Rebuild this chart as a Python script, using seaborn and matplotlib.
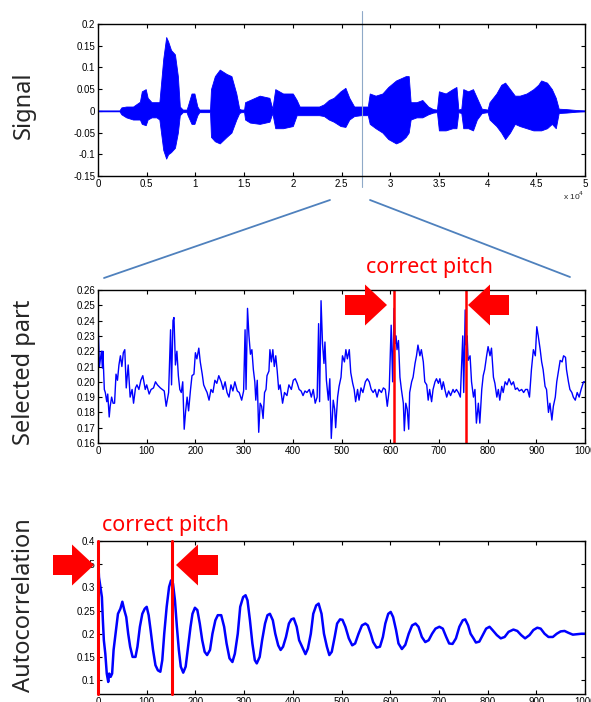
import matplotlib
matplotlib.use("Agg")
import matplotlib.pyplot as plt
from matplotlib.lines import Line2D
from matplotlib.patches import FancyArrow
import numpy as np
import pandas as pd
import seaborn as sns

# --- top panel: envelope of the speech signal (x in units of 1e4 samples)
sig_t = [0.0, 0.22, 0.24, 0.29, 0.36, 0.43, 0.45, 0.49, 0.51, 0.55, 0.60, 0.63, 0.67, 0.70,
         0.72, 0.75, 0.79, 0.82, 0.84, 0.87, 0.91, 0.92, 0.96, 0.99, 1.02, 1.04, 1.15, 1.16,
         1.20, 1.25, 1.32, 1.37, 1.42, 1.45, 1.47, 1.50, 1.51, 1.56, 1.66, 1.76, 1.79, 1.82,
         1.90, 2.00, 2.04, 2.07, 2.14, 2.21, 2.27, 2.32, 2.37, 2.42, 2.49, 2.54, 2.58, 2.63,
         2.70, 2.77, 2.79, 2.85, 2.92, 2.98, 3.06, 3.11, 3.16, 3.19, 3.21, 3.27, 3.33, 3.39,
         3.44, 3.48, 3.50, 3.57, 3.64, 3.68, 3.70, 3.73, 3.75, 3.80, 3.85, 3.89, 3.94, 4.00,
         4.02, 4.09, 4.14, 4.18, 4.23, 4.28, 4.33, 4.40, 4.47, 4.52, 4.55, 4.61, 4.66, 4.70,
         4.73, 4.81, 4.91, 5.00]
sig_hi = [0.001, 0.001, 0.008, 0.01, 0.01, 0.021, 0.045, 0.05, 0.03, 0.02, 0.02, 0.02, 0.12, 0.17,
          0.16, 0.14, 0.13, 0.08, 0.01, 0.003, 0.003, 0.01, 0.04, 0.04, 0.01, 0.003, 0.003, 0.05,
          0.08, 0.095, 0.085, 0.08, 0.04, 0.005, 0.003, 0.003, 0.02, 0.025, 0.035, 0.03, 0.005, 0.05,
          0.04, 0.04, 0.025, 0.01, 0.01, 0.01, 0.01, 0.015, 0.025, 0.03, 0.045, 0.053, 0.03, 0.01,
          0.01, 0.01, 0.04, 0.035, 0.04, 0.055, 0.07, 0.075, 0.08, 0.08, 0.02, 0.02, 0.025, 0.01,
          0.004, 0.003, 0.045, 0.04, 0.05, 0.055, 0.003, 0.005, 0.05, 0.045, 0.05, 0.03, 0.005, 0.003,
          0.02, 0.04, 0.06, 0.065, 0.05, 0.035, 0.035, 0.04, 0.05, 0.06, 0.07, 0.065, 0.05, 0.03,
          0.005, 0.004, 0.002, 0.001]
sig_lo = [-0.001, -0.001, -0.008, -0.015, -0.02, -0.02, -0.03, -0.033, -0.02, -0.015, -0.015, -0.02, -0.09, -0.11,
          -0.1, -0.095, -0.085, -0.05, -0.01, -0.003, -0.003, -0.01, -0.03, -0.03, -0.01, -0.003, -0.003, -0.06,
          -0.07, -0.075, -0.06, -0.05, -0.02, -0.005, -0.003, -0.003, -0.02, -0.027, -0.03, -0.025, -0.005, -0.04,
          -0.04, -0.035, -0.01, -0.01, -0.01, -0.01, -0.01, -0.012, -0.02, -0.025, -0.035, -0.037, -0.02, -0.012,
          -0.01, -0.01, -0.03, -0.04, -0.05, -0.065, -0.075, -0.07, -0.06, -0.05, -0.02, -0.015, -0.015, -0.008,
          -0.004, -0.003, -0.045, -0.045, -0.04, -0.04, -0.003, -0.005, -0.04, -0.04, -0.045, -0.02, -0.005, -0.003,
          -0.02, -0.035, -0.05, -0.065, -0.05, -0.03, -0.035, -0.04, -0.045, -0.045, -0.045, -0.04, -0.03, -0.04,
          -0.005, -0.004, -0.002, -0.001]
sel_mark = 2.71

# --- middle panel: selected 1000 samples
part_n = [0, 3, 7, 9, 10, 13, 15, 18, 20, 23, 25, 28, 31, 34, 37, 40, 43, 46, 49, 52, 55, 58, 62, 66,
          70, 73, 77, 80, 84, 88, 92, 97, 100, 105, 109, 114, 118, 122, 128, 132, 136, 140, 145,
          149, 151, 154, 156, 159, 162, 165, 168, 171, 174, 177, 180, 183, 186, 190, 193, 197,
          200, 203, 207, 210, 214, 217, 221, 224, 228, 232, 236, 240, 244, 248, 253, 257, 261,
          265, 269, 273, 277, 281, 286, 290, 295, 299, 302, 304, 307, 310, 313, 316, 319, 322,
          324, 327, 330, 333, 336, 339, 342, 345, 347, 351, 353, 356, 359, 362, 365, 368, 371,
          374, 379, 383, 388, 392, 397, 401, 405, 409, 413, 417, 421, 425, 429, 434, 438, 442,
          446, 450, 453, 455, 458, 461, 464, 466, 469, 473, 476, 479, 483, 486, 488, 492, 495,
          499, 502, 506, 509, 512, 516, 519, 523, 526, 529, 533, 536, 540, 544, 549, 553, 557,
          561, 565, 569, 573, 577, 582, 586, 590, 594, 598, 602, 605, 608, 610, 612, 614, 617,
          620, 623, 627, 629, 632, 635, 638, 640, 644, 647, 651, 654, 657, 661, 664, 668, 671,
          675, 678, 681, 685, 688, 692, 695, 699, 702, 706, 709, 713, 716, 720, 724, 729, 732,
          736, 740, 744, 749, 751, 754, 756, 758, 760, 764, 767, 771, 774, 777, 781, 784, 788,
          791, 794, 798, 801, 805, 808, 812, 815, 819, 822, 825, 829, 832, 836, 840, 844, 849,
          853, 857, 861, 865, 870, 874, 878, 882, 886, 890, 894, 898, 901, 904, 908, 911, 914,
          918, 921, 925, 928, 932, 935, 939, 942, 946, 949, 953, 956, 960, 962, 966, 969, 973,
          976, 980, 984, 988, 992, 997, 1000]
part_v = [0.239, 0.21, 0.22, 0.209, 0.22, 0.195, 0.193, 0.187, 0.192, 0.177, 0.184, 0.19, 0.186, 0.186,
          0.205, 0.201, 0.211, 0.217, 0.21, 0.219, 0.221, 0.196, 0.211, 0.19, 0.195, 0.186, 0.196,
          0.198, 0.195, 0.201, 0.204, 0.195, 0.198, 0.192, 0.195, 0.196, 0.2, 0.198, 0.196, 0.195,
          0.194, 0.184, 0.193, 0.234, 0.198, 0.24, 0.242, 0.211, 0.22, 0.204, 0.195, 0.193, 0.2,
          0.169, 0.181, 0.19, 0.181, 0.195, 0.204, 0.205, 0.219, 0.215, 0.222, 0.213, 0.205, 0.198,
          0.195, 0.193, 0.188, 0.195, 0.193, 0.201, 0.199, 0.204, 0.2, 0.195, 0.2, 0.193, 0.19,
          0.198, 0.194, 0.2, 0.194, 0.193, 0.188, 0.194, 0.234, 0.195, 0.248, 0.23, 0.218, 0.221,
          0.208, 0.2, 0.188, 0.201, 0.167, 0.186, 0.184, 0.176, 0.193, 0.195, 0.204, 0.207, 0.221,
          0.213, 0.221, 0.21, 0.217, 0.207, 0.195, 0.198, 0.186, 0.193, 0.191, 0.198, 0.195, 0.201,
          0.202, 0.199, 0.195, 0.194, 0.191, 0.194, 0.193, 0.195, 0.19, 0.195, 0.186, 0.19, 0.238,
          0.187, 0.253, 0.225, 0.212, 0.226, 0.201, 0.188, 0.202, 0.163, 0.188, 0.182, 0.17, 0.19,
          0.197, 0.203, 0.217, 0.213, 0.221, 0.215, 0.221, 0.206, 0.199, 0.195, 0.187, 0.195, 0.188,
          0.196, 0.193, 0.2, 0.202, 0.2, 0.195, 0.193, 0.195, 0.19, 0.195, 0.193, 0.196, 0.195,
          0.184, 0.195, 0.237, 0.2, 0.248, 0.225, 0.23, 0.221, 0.227, 0.203, 0.195, 0.186, 0.168,
          0.186, 0.182, 0.169, 0.193, 0.2, 0.203, 0.212, 0.217, 0.224, 0.217, 0.221, 0.213, 0.2,
          0.198, 0.188, 0.195, 0.187, 0.195, 0.2, 0.202, 0.199, 0.202, 0.195, 0.2, 0.194, 0.19,
          0.194, 0.191, 0.195, 0.193, 0.195, 0.193, 0.19, 0.23, 0.193, 0.247, 0.224, 0.23, 0.214,
          0.217, 0.2, 0.19, 0.195, 0.173, 0.186, 0.173, 0.195, 0.204, 0.208, 0.217, 0.223, 0.217,
          0.222, 0.203, 0.199, 0.19, 0.195, 0.188, 0.197, 0.193, 0.2, 0.198, 0.202, 0.198, 0.2,
          0.195, 0.196, 0.194, 0.195, 0.193, 0.195, 0.195, 0.19, 0.208, 0.221, 0.217, 0.236, 0.23,
          0.221, 0.213, 0.208, 0.197, 0.195, 0.18, 0.186, 0.175, 0.184, 0.19, 0.2, 0.208, 0.214,
          0.213, 0.217, 0.216, 0.208, 0.2, 0.195, 0.193, 0.19, 0.188, 0.193, 0.19, 0.195, 0.2, 0.2]
part_pitch = [607, 755]

# --- bottom panel: autocorrelation
lag = [0, 2, 5, 8, 10, 12, 15, 18, 21, 23, 26, 29, 32, 36, 41, 46, 50, 54, 58, 62, 66, 71, 77, 81,
       86, 91, 96, 100, 104, 108, 113, 118, 123, 128, 132, 136, 141, 146, 150, 154, 158, 162,
       166, 170, 175, 180, 185, 190, 194, 199, 204, 209, 214, 219, 224, 230, 235, 241, 246,
       253, 259, 264, 270, 276, 281, 287, 292, 298, 303, 307, 312, 317, 322, 326, 332, 337,
       343, 348, 353, 359, 364, 370, 375, 380, 386, 392, 397, 402, 408, 413, 420, 426, 431,
       437, 442, 448, 453, 459, 464, 470, 475, 480, 486, 491, 497, 502, 508, 515, 522, 528,
       535, 542, 549, 554, 560, 565, 572, 579, 585, 590, 596, 601, 606, 612, 617, 624, 631,
       638, 645, 652, 658, 665, 672, 679, 686, 693, 701, 708, 715, 721, 728, 735, 742, 749,
       754, 760, 765, 771, 776, 783, 790, 797, 804, 810, 819, 827, 835, 843, 853, 861, 869,
       877, 886, 894, 902, 909, 917, 925, 934, 942, 950, 958, 966, 975, 984, 993, 1000]
acf = [0.369, 0.322, 0.301, 0.279, 0.229, 0.186, 0.157, 0.114, 0.096, 0.114, 0.107, 0.114, 0.165,
       0.2, 0.243, 0.254, 0.269, 0.251, 0.236, 0.2, 0.172, 0.15, 0.15, 0.172, 0.215, 0.243, 0.254,
       0.258, 0.24, 0.208, 0.165, 0.132, 0.121, 0.118, 0.143, 0.2, 0.258, 0.301, 0.315, 0.308,
       0.272, 0.215, 0.165, 0.129, 0.116, 0.129, 0.172, 0.215, 0.243, 0.256, 0.251, 0.222, 0.186,
       0.161, 0.154, 0.165, 0.2, 0.229, 0.24, 0.24, 0.215, 0.179, 0.147, 0.139, 0.157, 0.2, 0.258,
       0.279, 0.283, 0.272, 0.229, 0.179, 0.143, 0.136, 0.15, 0.186, 0.222, 0.24, 0.243, 0.229,
       0.2, 0.175, 0.165, 0.172, 0.193, 0.222, 0.231, 0.233, 0.215, 0.186, 0.17, 0.156, 0.168,
       0.2, 0.243, 0.261, 0.265, 0.243, 0.2, 0.172, 0.154, 0.161, 0.193, 0.222, 0.231, 0.23,
       0.215, 0.19, 0.175, 0.179, 0.2, 0.218, 0.222, 0.218, 0.2, 0.182, 0.17, 0.172, 0.193, 0.222,
       0.243, 0.247, 0.236, 0.208, 0.179, 0.167, 0.176, 0.2, 0.218, 0.222, 0.215, 0.193, 0.182,
       0.186, 0.2, 0.211, 0.215, 0.211, 0.193, 0.179, 0.178, 0.19, 0.215, 0.229, 0.231, 0.218,
       0.2, 0.19, 0.181, 0.183, 0.197, 0.211, 0.215, 0.208, 0.197, 0.19, 0.193, 0.204, 0.209,
       0.206, 0.197, 0.19, 0.197, 0.208, 0.213, 0.211, 0.2, 0.193, 0.193, 0.2, 0.205, 0.206,
       0.202, 0.198, 0.199, 0.2, 0.2]
acf_pitch = [0, 152]

sns.set_style("ticks")
plt.rcParams["font.family"] = ["Liberation Sans", "DejaVu Sans"]
label_font = ["Noto Sans", "DejaVu Sans"]
blue = "#0000ff"
red = "#ff0000"
conn = "#4f81bd"

W, H = 591, 702
fig = plt.figure(figsize=(W / 100, H / 100), dpi=100)


def box(left, top, right, bottom):
    return [left / W, 1 - bottom / H, (right - left) / W, (bottom - top) / H]


def style(ax):
    for s in ax.spines.values():
        s.set_linewidth(1.0)
        s.set_color("black")
    ax.tick_params(direction="in", top=True, right=True, length=3, width=0.8,
                   labelsize=7, pad=2, colors="black")


# top
ax1 = fig.add_axes(box(98, 24, 585, 176))
ax1.fill_between(sig_t, sig_lo, sig_hi, color=blue, lw=0.6, edgecolor=blue)
sns.lineplot(x=[0, 5], y=[0, 0], ax=ax1, color=blue, lw=0.8)
ax1.axvline(sel_mark, ymin=-0.072, ymax=1.086, clip_on=False, color="#8fa9c8", lw=0.8)
ax1.set_xlim(0, 5)
ax1.set_ylim(-0.15, 0.2)
ax1.set_xticks(np.arange(0, 5.01, 0.5))
ax1.set_xticklabels(["0", "0.5", "1", "1.5", "2", "2.5", "3", "3.5", "4", "4.5", "5"])
ax1.set_yticks(np.arange(-0.15, 0.201, 0.05))
ax1.set_yticklabels(["-0.15", "-0.1", "-0.05", "0", "0.05", "0.1", "0.15", "0.2"])
ax1.set_xlabel("")
ax1.set_ylabel("")
style(ax1)
fig.text(584 / W, 1 - 196 / H, r"x 10$^4$", ha="right", va="center", fontsize=6)

# middle
ax2 = fig.add_axes(box(98, 290, 585, 443))
df2 = pd.DataFrame({"n": part_n, "v": part_v})
sns.lineplot(data=df2, x="n", y="v", ax=ax2, color=blue, lw=1.0)
for p in part_pitch:
    ax2.axvline(p, color=red, lw=1.8)
ax2.set_xlim(0, 1000)
ax2.set_ylim(0.16, 0.26)
ax2.set_xticks(np.arange(0, 1001, 100))
ax2.set_yticks(np.arange(0.16, 0.2601, 0.01))
ax2.set_yticklabels([f"{v:.2f}" for v in np.arange(0.16, 0.2601, 0.01)])
ax2.set_xlabel("")
ax2.set_ylabel("")
style(ax2)

# bottom
ax3 = fig.add_axes(box(98, 541, 585, 694))
df3 = pd.DataFrame({"lag": lag, "r": acf})
sns.lineplot(data=df3, x="lag", y="r", ax=ax3, color=blue, lw=1.8)
for p in acf_pitch:
    ax3.axvline(p, color=red, lw=2.2, clip_on=False, zorder=5)
ax3.set_xlim(0, 1000)
ax3.set_ylim(0.07, 0.4)
ax3.set_xticks(np.arange(0, 1001, 100))
ax3.set_yticks(np.arange(0.1, 0.401, 0.05))
ax3.set_yticklabels(["0.1", "0.15", "0.2", "0.25", "0.3", "0.35", "0.4"])
ax3.set_xlabel("")
ax3.set_ylabel("")
style(ax3)

# panel titles on the left
for txt, yc in [("Signal", 105), ("Selected part", 372), ("Autocorrelation", 605)]:
    fig.text(24 / W, 1 - yc / H, txt, rotation=90, ha="center", va="center",
             fontsize=17, family=label_font)

# zoom connector lines
fig.add_artist(Line2D([104 / W, 330 / W], [1 - 278 / H, 1 - 200 / H], color=conn, lw=1.3))
fig.add_artist(Line2D([370 / W, 570 / W], [1 - 200 / H, 1 - 277 / H], color=conn, lw=1.3))

# "correct pitch" annotations
fig.text(430 / W, 1 - 267 / H, "correct pitch", color=red, ha="center", va="center",
         fontsize=15.5, family=label_font)
fig.text(165 / W, 1 - 525 / H, "correct pitch", color=red, ha="center", va="center",
         fontsize=15.5, family=label_font)


def arrow(x0, x1, yc):
    dx = (x1 - x0) / W
    fig.add_artist(FancyArrow(x0 / W, 1 - yc / H, dx, 0, width=20 / H, head_width=41 / H,
                              head_length=22 / W, length_includes_head=True,
                              color=red, lw=0, transform=fig.transFigure))


arrow(345, 387, 305)
arrow(509, 468, 305)
arrow(53, 94, 565)
arrow(218, 176, 565)

fig.savefig("out.png", dpi=100)
